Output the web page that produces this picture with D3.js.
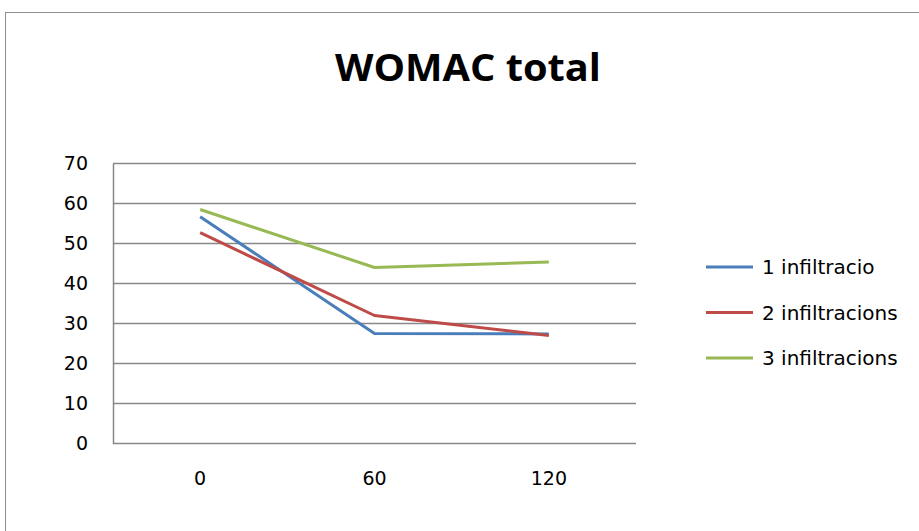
<!DOCTYPE html>
<html>
<head>
<meta charset="utf-8">
<script src="https://cdn.jsdelivr.net/npm/d3@7"></script>
<style>
  html, body { margin: 0; padding: 0; background: #fff; }
  svg { display: block; }
</style>
</head>
<body>
<svg id="chart" width="919" height="531"></svg>
<script>
// Time points (days) and WOMAC total scores per group
const categories = ["0", "60", "120"];
const seriesNames = ["1 infiltracio", "2 infiltracions", "3 infiltracions"];
const seriesValues = [
  [56.7, 27.5, 27.4],
  [52.7, 32.0, 27.0],
  [58.5, 44.0, 45.4]
];
const seriesColors = ["#4a7ebb", "#be4b48", "#98b954"];
const yTicks = [0, 10, 20, 30, 40, 50, 60, 70];

const svg = d3.select("#chart");
const titleFont = "'Open Sans', 'DejaVu Sans', sans-serif";
const font = "'DejaVu Sans', 'Open Sans', sans-serif";

// chart frame
svg.append("rect")
  .attr("x", 5.5).attr("y", 12.5)
  .attr("width", 930).attr("height", 540)
  .attr("fill", "#fff").attr("stroke", "#8e8e8e").attr("stroke-width", 1);

// title
svg.append("text")
  .attr("x", 468).attr("y", 81)
  .attr("text-anchor", "middle")
  .attr("font-family", titleFont)
  .attr("font-weight", "bold")
  .attr("font-size", 38)
  .attr("textLength", 266)
  .attr("lengthAdjust", "spacingAndGlyphs")
  .attr("fill", "#000")
  .text("WOMAC total");

const plot = { left: 113, right: 636, top: 163.5, bottom: 443.5 };

const x = d3.scaleBand().domain(categories).range([plot.left, plot.right]);
const y = d3.scaleLinear().domain([0, 70]).range([plot.bottom, plot.top]);

// horizontal gridlines
svg.append("g")
  .selectAll("line")
  .data(yTicks)
  .join("line")
  .attr("x1", plot.left).attr("x2", plot.right)
  .attr("y1", d => y(d)).attr("y2", d => y(d))
  .attr("stroke", "#888").attr("stroke-width", 1.5);

// y axis
const yAxis = svg.append("g")
  .attr("transform", `translate(${plot.left},0)`)
  .call(d3.axisLeft(y).tickValues(yTicks).tickSize(0).tickPadding(25));
yAxis.select(".domain").attr("stroke", "#888").attr("stroke-width", 1.5);
yAxis.selectAll("text")
  .attr("font-family", font).attr("font-size", 19).attr("fill", "#000");

// x axis labels
const xAxis = svg.append("g")
  .attr("transform", `translate(0,${plot.bottom})`)
  .call(d3.axisBottom(x).tickSize(0).tickPadding(28));
xAxis.select(".domain").remove();
xAxis.selectAll("text")
  .attr("font-family", font).attr("font-size", 19).attr("fill", "#000");

// series lines
const line = d3.line()
  .x((d, i) => x(categories[i]) + x.bandwidth() / 2)
  .y(d => y(d));

svg.append("g")
  .selectAll("path")
  .data(seriesValues)
  .join("path")
  .attr("d", line)
  .attr("fill", "none")
  .attr("stroke", (d, i) => seriesColors[i])
  .attr("stroke-width", 3)
  .attr("stroke-linejoin", "round");

// legend
const legend = svg.append("g")
  .selectAll("g")
  .data(seriesNames)
  .join("g")
  .attr("transform", (d, i) => `translate(706,${267 + i * 45.5})`);
legend.append("line")
  .attr("x1", 0).attr("x2", 47)
  .attr("stroke", (d, i) => seriesColors[i])
  .attr("stroke-width", 3);
legend.append("text")
  .attr("x", 56).attr("dy", "0.35em")
  .attr("font-family", font).attr("font-size", 20).attr("fill", "#000")
  .text(d => d);
</script>
</body>
</html>
